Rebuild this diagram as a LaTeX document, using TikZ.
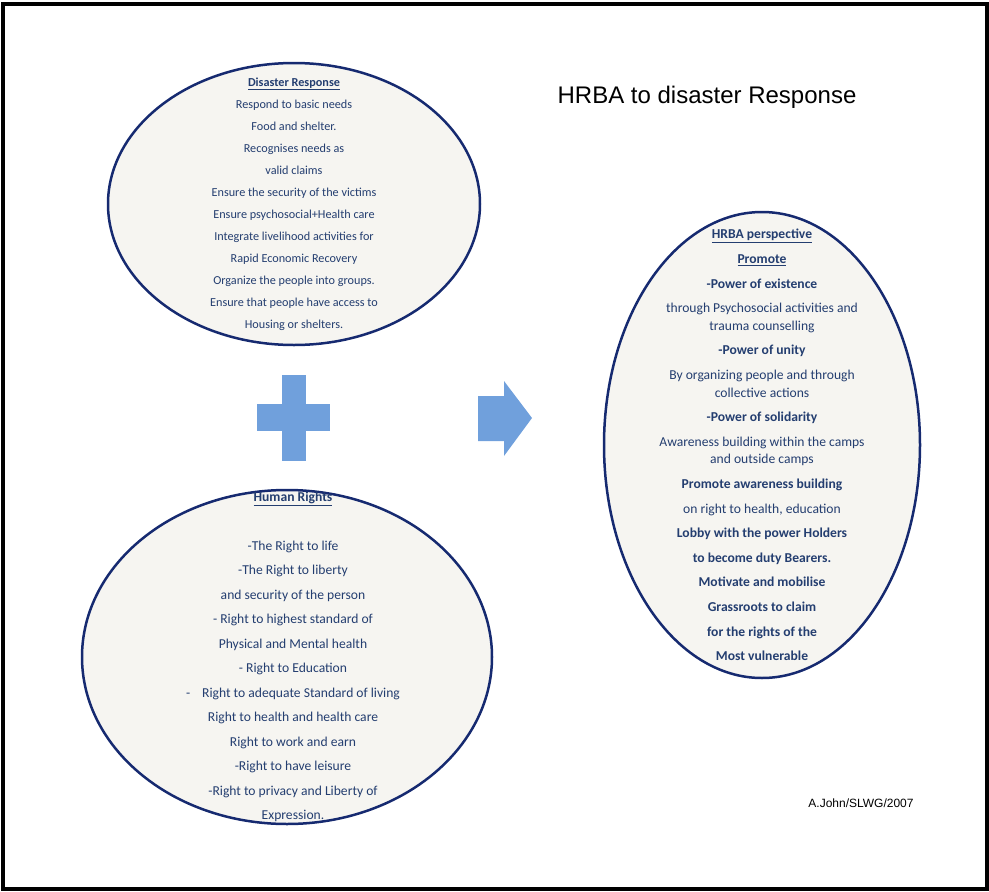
\documentclass[tikz,border=0pt]{standalone}
\usepackage{fontspec}
\setmainfont{Carlito}
\newfontfamily\headfont{Liberation Sans}
\usepackage{tikz}
\usetikzlibrary{shapes.geometric}
\definecolor{bordernavy}{RGB}{22,42,112}
\definecolor{textnavy}{RGB}{36,62,112}
\definecolor{bubblefill}{RGB}{246,245,241}
\definecolor{plusblue}{RGB}{112,160,220}
\tikzset{bubble/.style={ellipse, draw=bordernavy, line width=2.5pt, fill=bubblefill, inner sep=0pt}}
\tikzset{bubtext/.style={text=textnavy, align=center, inner sep=0pt}}
\tikzstyle{signblue} = [fill=plusblue]

\begin{document}
\begin{tikzpicture}[x=1pt,y=-1pt]
\useasboundingbox (0,0) rectangle (989,892);
\draw[line width=4pt] (3,4) rectangle (987,889);

% the three bubbles
\node[bubble, minimum width=372pt, minimum height=282pt] (disaster) at (294,204) {};
\node[bubtext, font=\fontsize{12.2}{22}\selectfont] (disastertext) at (disaster.center) {%
\textbf{\underline{Disaster Response}}\\
Respond to basic needs\\
Food and shelter.\\
Recognises needs as\\
valid claims\\
Ensure the security of the victims\\
Ensure psychosocial+Health care\\
Integrate livelihood activities for\\
Rapid Economic Recovery\\
Organize the people into groups.\\
Ensure that people have access to\\
Housing or shelters.};

\node[bubble, minimum width=410pt, minimum height=334pt] (rights) at (287,657) {};
\node[bubtext, font=\fontsize{13.6}{24.5}\selectfont] (rightstext) at ([xshift=6pt]rights.center) {%
\textbf{\underline{Human Rights}}\\[24.5pt]
-The Right to life\\
-The Right to liberty\\
and security of the person\\
- Right to highest standard of\\
Physical and Mental health\\
- Right to Education\\
-\hspace{12pt}Right to adequate Standard of living\\
Right to health and health care\\
Right to work and earn\\
-Right to have leisure\\
-Right to privacy and Liberty of\\
Expression.};

\node[bubble, minimum width=316pt, minimum height=466pt] (hrba) at (762,445) {};
\node[bubtext, font=\fontsize{13.6}{24.6}\selectfont] (hrbatext) at (hrba.center) {%
\textbf{\underline{HRBA perspective}}\\
\textbf{\underline{Promote}}\\
\textbf{-Power of existence}\\
through Psychosocial activities and\\[-7pt]
trauma counselling\\
\textbf{-Power of unity}\\
By organizing people and through\\[-7pt]
collective actions\\
\textbf{-Power of solidarity}\\
Awareness building within the camps\\[-7pt]
and outside camps\\
\textbf{Promote awareness building}\\
on right to health, education\\
\textbf{Lobby with the power Holders}\\
\textbf{to become duty Bearers.}\\
\textbf{Motivate and mobilise}\\
\textbf{Grassroots to claim}\\
\textbf{for the rights of the}\\
\textbf{Most vulnerable}};

% plus and arrow
\fill[signblue] (257,404) rectangle (330,431);
\fill[signblue] (282,375) rectangle (306,461);
\fill[signblue] (478,396) -- (504,396) -- (504,381) -- (532,418) -- (504,456) -- (504,441) -- (478,441) -- cycle;

\node[anchor=base, font=\headfont\fontsize{24}{28}\selectfont] (title) at (707,103) {HRBA to disaster Response};
\node[anchor=base, font=\headfont\fontsize{12}{14}\selectfont] (sign) at (861,807) {A.John/SLWG/2007};
\end{tikzpicture}
\end{document}
